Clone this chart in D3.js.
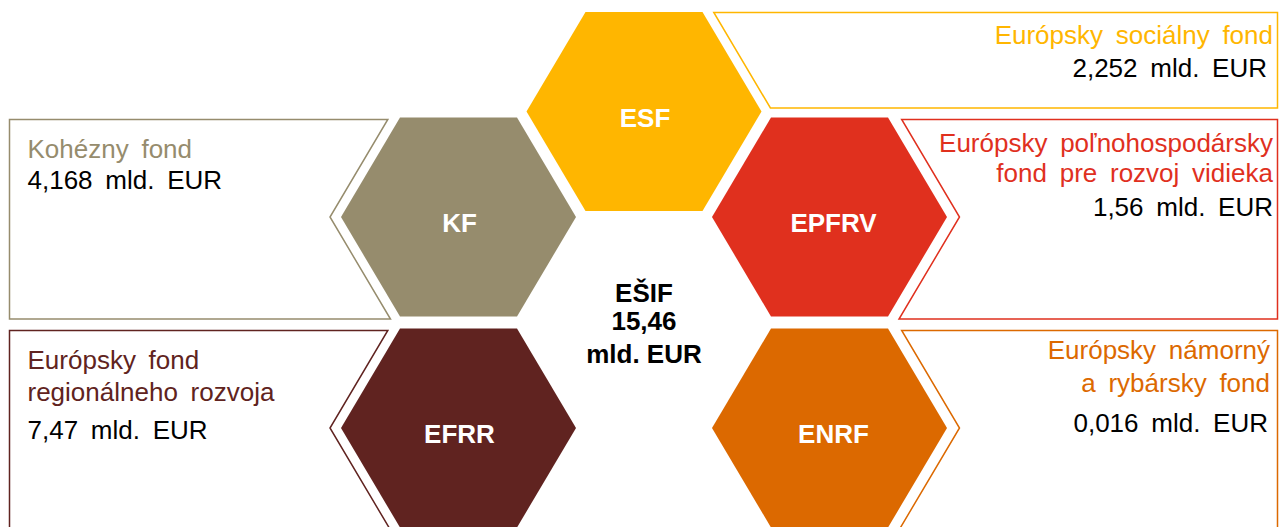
<!DOCTYPE html>
<html>
<head>
<meta charset="utf-8">
<script src="https://cdn.jsdelivr.net/npm/d3@7"></script>
<style>
  html, body { margin: 0; padding: 0; background: #fff; }
  svg { display: block; font-family: "Liberation Sans", Arial, sans-serif; }
</style>
</head>
<body>
<div id="chart"></div>
<script>
// fund data
var fundCodes = ["ESF", "KF", "EPFRV", "EFRR", "ENRF"];
var fundNames = [
  ["Európsky sociálny fond"],
  ["Kohézny fond"],
  ["Európsky poľnohospodársky", "fond pre rozvoj vidieka"],
  ["Európsky fond", "regionálneho rozvoja"],
  ["Európsky námorný", "a rybársky fond"]
];
var allocations = [2.252, 4.168, 1.56, 7.47, 0.016]; // mld. EUR
var totalLabel = "EŠIF";
var totalValue = 15.46;
var unit = "mld. EUR";

// honeycomb cell of every fund (column, half-row)
var gridCol = [1, 0, 2, 0, 2];
var gridRow = [0, 1, 1, 3, 3];
var boxSide = ["top", "left", "right", "left", "right"];
var fundColors = ["#FFB600", "#968C6D", "#E0301E", "#602320", "#DC6900"];

var width = 1279,
    height = 527;

var svg = d3.select("#chart")
  .append("svg")
  .attr("width", width)
  .attr("height", height);

// grid -> pixel scales
var x = d3.scaleLinear().domain([0, 2]).range([458.5, 829.5]);
var y = d3.scaleLinear().domain([0, 3]).range([111.5, 428]);

// hexagon shape (flat top)
var R = 117.5, halfTop = 58.5, halfH = 99.5;
var hexPts = [[-R, 0], [-halfTop, -halfH], [halfTop, -halfH], [R, 0], [halfTop, halfH], [-halfTop, halfH]];
var slope = (R - halfTop) / halfH;
var leftEdge = 9.5, rightEdge = 1277.5;

var funds = fundCodes.map(function(code, i) {
  return {
    code: code,
    names: fundNames[i],
    value: allocations[i],
    cx: x(gridCol[i]),
    cy: y(gridRow[i]),
    side: boxSide[i],
    color: fundColors[i]
  };
});

// text baselines measured from the box top, and right-hand text ends
var textOffsets = {
  top:   [31.5, 64],
  left:  [[38.5, 69.5], [38.5, 70, 108.5]],
  right: [[32, 62.5, 96.5], [28, 61, 101.5]]
};
var textEnds = {
  top:   [1273, 1267],
  right: [[1273, 1273, 1273], [1270, 1270, 1268]]
};

function boxPoints(d) {
  var top, bottom, nx;
  if (d.side == "top") {
    top = d.cy - 99; bottom = d.cy - 3.5; nx = d.cx + R + 11;
    return [[nx - slope * (d.cy - top), top], [rightEdge, top], [rightEdge, bottom], [nx - slope * (d.cy - bottom), bottom]];
  }
  top = d.cy - 97.5; bottom = d.cy + 102;
  if (d.side == "left") {
    nx = d.cx - R - 11;
    return [[leftEdge, top], [nx + slope * (d.cy - top), top], [nx, d.cy], [nx + slope * (bottom - d.cy), bottom], [leftEdge, bottom]];
  }
  nx = d.cx + R + 12.5;
  return [[nx - slope * (d.cy - top), top], [rightEdge, top], [rightEdge, bottom], [nx - slope * (bottom - d.cy), bottom], [nx, d.cy]];
}

var line = d3.line();
var fmt = function(v) { return String(v).replace(".", ","); };

// outlined text boxes
svg.selectAll(".box")
  .data(funds)
  .enter().append("path")
  .attr("class", "box")
  .attr("d", function(d) { return line(boxPoints(d)) + "Z"; })
  .attr("fill", "none")
  .attr("stroke", function(d) { return d.color; })
  .attr("stroke-width", 1.5);

// hexagons
svg.selectAll(".hex")
  .data(funds)
  .enter().append("path")
  .attr("class", "hex")
  .attr("transform", function(d) { return "translate(" + d.cx + "," + d.cy + ")"; })
  .attr("d", line(hexPts) + "Z")
  .attr("fill", function(d) { return d.color; });

svg.selectAll(".hexLabel")
  .data(funds)
  .enter().append("text")
  .attr("class", "hexLabel")
  .attr("x", function(d) { return d.cx + (d.side == "right" ? 4 : 1); })
  .attr("y", function(d) { return d.cy + 15; })
  .attr("text-anchor", "middle")
  .attr("font-size", 26)
  .attr("font-weight", "bold")
  .attr("fill", "#fff")
  .text(function(d) { return d.code; });

// box texts
var leftCount = 0, rightCount = 0;
funds.forEach(function(d) {
  var top = d.side == "top" ? d.cy - 99 : d.cy - 97.5;
  var offs, ends = null;
  if (d.side == "top") { offs = textOffsets.top; ends = textEnds.top; }
  else if (d.side == "left") offs = textOffsets.left[leftCount++];
  else { offs = textOffsets.right[rightCount]; ends = textEnds.right[rightCount]; rightCount++; }

  var anchor = d.side == "left" ? "start" : "end";
  var lines = d.names.map(function(n) { return { t: n, c: d.color }; });
  lines.push({ t: fmt(d.value) + " " + unit, c: "#000" });

  var g = svg.append("g");
  g.selectAll("text")
    .data(lines)
    .enter().append("text")
    .attr("x", function(l, j) { return ends ? ends[j] : 27.5; })
    .attr("y", function(l, j) { return top + offs[j]; })
    .attr("text-anchor", anchor)
    .attr("font-size", 26)
    .attr("word-spacing", 5.5)
    .attr("fill", function(l) { return l.c; })
    .text(function(l) { return l.t; });
});

// total in the middle cell
var centerLines = [totalLabel, fmt(totalValue), unit];
var centerOffs = [-21, 7.5, 40];
svg.selectAll(".total")
  .data(centerLines)
  .enter().append("text")
  .attr("class", "total")
  .attr("x", x(1))
  .attr("y", function(t, i) { return y(2) + centerOffs[i]; })
  .attr("text-anchor", "middle")
  .attr("font-size", 26)
  .attr("font-weight", "bold")
  .attr("fill", "#000")
  .text(function(t) { return t; });
</script>
</body>
</html>
